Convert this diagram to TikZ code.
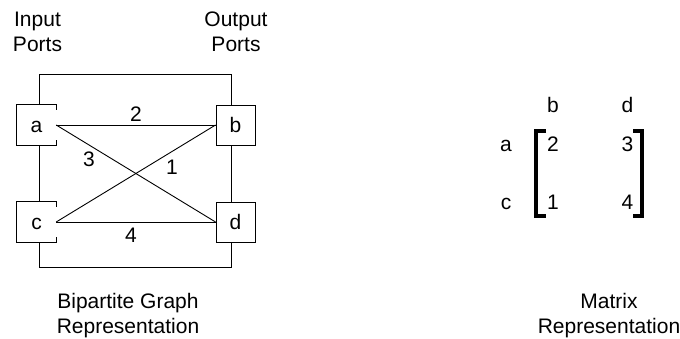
\documentclass[tikz,border=0pt]{standalone}
\usepackage{fontspec}
\setmainfont{Liberation Sans}
\begin{document}
\begin{tikzpicture}[x=1pt,y=-1pt,
  lbl/.style={font=\fontsize{21}{25}\selectfont, inner sep=0pt},
  caption/.style={lbl, align=center, anchor=base},
  port/.style={lbl, minimum width=39pt, minimum height=40pt, fill=white,
    text height=15pt, text depth=0pt},
  wire/.style={line width=0.9pt},
  brk/.style={line width=3.6pt, line join=miter}]
\useasboundingbox (0,0) rectangle (680,339);
% captions (anchored at the baseline of the last line)
\node[caption] (inp) at (37.5,52) {Input\\Ports};
\node[caption] (outp) at (236,52) {Output\\Ports};
\node[caption] (bip) at (128,333) {Bipartite Graph\\Representation};
\node[caption] (mat) at (609,333) {Matrix\\Representation};
% frame
\draw[wire] (39,74) rectangle (231,267);
% ports
\node[port] (a) at (36.5,125) {a};
\node[port, draw, wire] (b) at (235.5,125) {b};
\node[port] (c) at (36.5,222) {c};
\node[port, draw, wire] (d) at (235.5,222) {d};
\draw[wire] ([yshift=-5pt]a.north east) -- (a.north east) -- (a.north west) -- (a.south west) -- (a.south east) -- ([yshift=5pt]a.south east);
\draw[wire] ([yshift=-5pt]c.north east) -- (c.north east) -- (c.north west) -- (c.south west) -- (c.south east) -- ([yshift=5pt]c.south east);
% edges
\draw[wire] (a.east) -- (b.west);
\draw[wire] (a.east) -- (d.west);
\draw[wire] (c.east) -- (b.west);
\draw[wire] (c.east) -- (d.west);
% weights
\node[lbl, anchor=base] (w2) at (136,122) {2};
\node[lbl, anchor=base] (w3) at (89,167) {3};
\node[lbl, anchor=base] (w1) at (172,175) {1};
\node[lbl, anchor=base] (w4) at (131,243) {4};
% matrix
\node[lbl, anchor=base] (mb) at (553,113) {b};
\node[lbl, anchor=base] (md) at (627.5,113) {d};
\node[lbl, anchor=base] (ma) at (506,152) {a};
\node[lbl, anchor=base] (mc) at (506,210) {c};
\node[lbl, anchor=base] (m2) at (553,152) {2};
\node[lbl, anchor=base] (m3) at (627.5,152) {3};
\node[lbl, anchor=base] (m1) at (553,210) {1};
\node[lbl, anchor=base] (m4) at (627.5,210) {4};
\draw[brk] (546,131) -- (536,131) -- (536,216) -- (546,216);
\draw[brk] (633,131) -- (642,131) -- (642,216) -- (633,216);
\end{tikzpicture}
\end{document}
